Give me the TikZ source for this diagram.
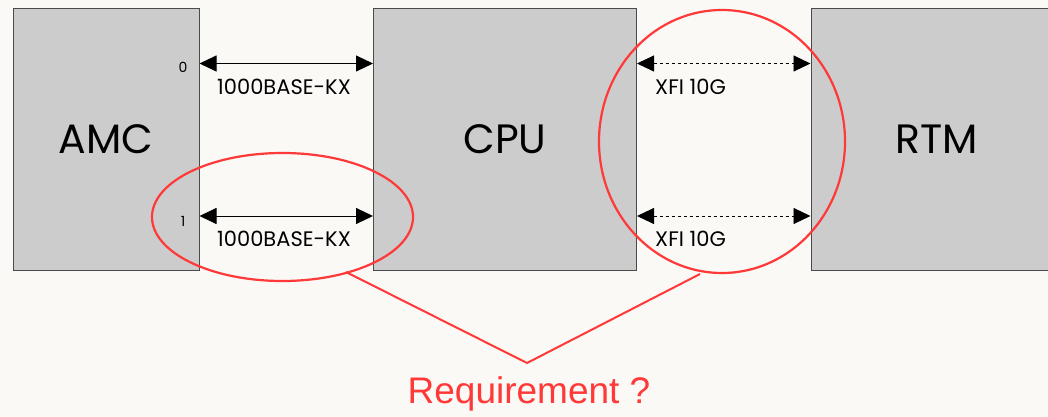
\documentclass[tikz,border=0pt]{standalone}
\usepackage{fontspec}
\setmainfont{Poppins}
\newfontfamily\arialfont{Liberation Sans}
\usetikzlibrary{arrows.meta}
\definecolor{paper}{HTML}{FAF9F6}
\definecolor{boxfill}{HTML}{CCCCCC}
\definecolor{boxline}{HTML}{4A4A4A}
\definecolor{markred}{HTML}{FF3838}
\begin{document}
\begin{tikzpicture}[x=1pt,y=-1pt,
  box/.style={draw=boxline, line width=1pt, fill=boxfill, inner sep=0pt,
    minimum height=262pt, font=\fontsize{41}{41}\selectfont},
  link/.style={line width=0.9pt, {Triangle[length=17pt,width=16pt]}-{Triangle[length=17pt,width=16pt]}},
  dlink/.style={link, dash pattern=on 3.5pt off 2.5pt},
  lbl/.style={font=\fontsize{21}{21}\selectfont, inner sep=0pt},
  port/.style={font=\fontsize{14}{14}\selectfont, inner sep=0pt},
  ring/.style={draw=markred, line width=2.2pt},
  callout/.style={draw=markred, line width=2pt}]
\fill[paper] (0,0) rectangle (1048,417);
\useasboundingbox (0,0) rectangle (1048,417);

% boards
\node[box, minimum width=186pt] (amc) at (106,139.5) {AMC};
\node[box, minimum width=263pt] (cpu) at (505,139.5) {CPU};
\node[box, minimum width=252pt] (rtm) at (937,139.5) {RTM};

% lane heights
\coordinate (l0) at (0,63.5);
\coordinate (l1) at (0,216);

% 1000BASE-KX links AMC <-> CPU
\draw[link] (amc.east |- l0) -- (cpu.west |- l0);
\draw[link] (amc.east |- l1) -- (cpu.west |- l1);
\node[lbl] (kx0) at (284,87) {1000BASE-KX};
\node[lbl] (kx1) at (284,239) {1000BASE-KX};
\node[port] (p0) at (183,67) {0};
\node[port] (p1) at (183,221) {1};

% XFI links CPU <-> RTM
\draw[dlink] (cpu.east |- l0) -- (rtm.west |- l0);
\draw[dlink] (cpu.east |- l1) -- (rtm.west |- l1);
\node[lbl, anchor=west] (x0) at (655,87) {XFI 10G};
\node[lbl, anchor=west] (x1) at (655,239) {XFI 10G};

% highlight rings
\draw[ring] (282.5,217) ellipse [x radius=130.5, y radius=64];
\draw[ring] (722,141.5) ellipse [x radius=123, y radius=131.5];

% callout
\coordinate (ca) at (346,272);
\coordinate (cb) at (700,274);
\node[font=\arialfont\fontsize{37}{37}\selectfont, text=markred, inner sep=0pt] (req) at (529,394) {Requirement ?};
\coordinate (apex) at (527,363);
\draw[callout, line join=miter] (ca) -- (apex) -- (cb);
\end{tikzpicture}
\end{document}
